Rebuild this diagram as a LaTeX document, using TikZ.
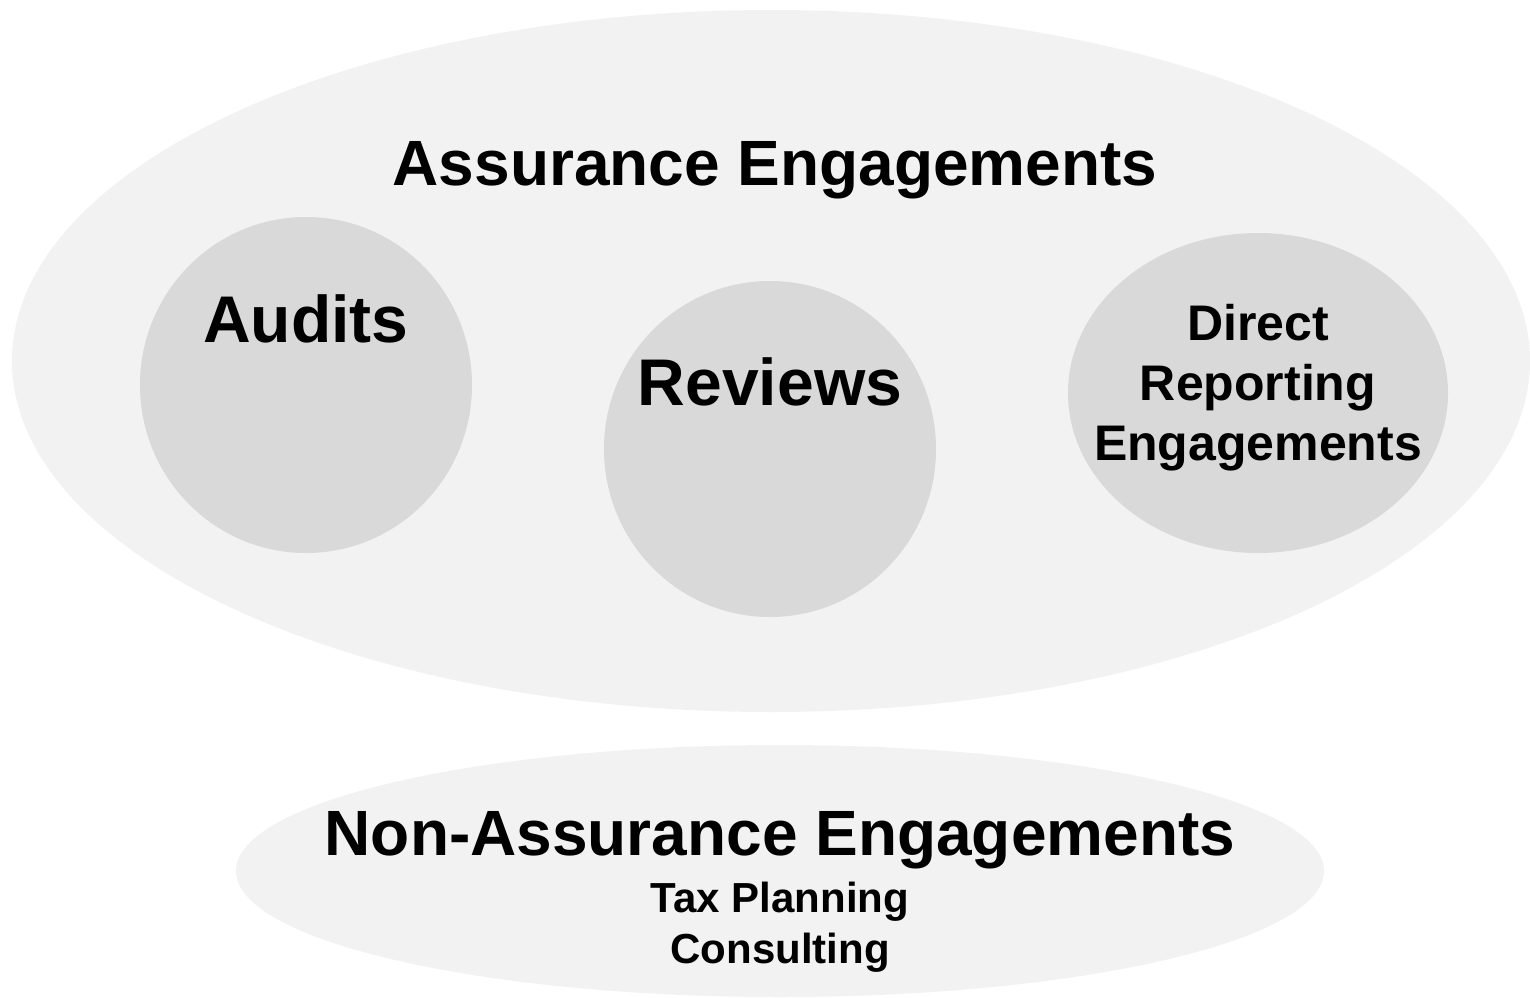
\documentclass[tikz,border=0pt]{standalone}
\usepackage{fontspec}
\setmainfont{Liberation Sans}
\definecolor{outerfill}{HTML}{F2F2F2}
\definecolor{innerfill}{HTML}{D9D9D9}
\begin{document}
\begin{tikzpicture}[x=0.5pt,y=-0.5pt,
  outer/.style={fill=outerfill,draw=none},
  inner/.style={fill=innerfill,draw=none},
  lbl/.style={font=\bfseries,anchor=base,inner sep=0pt,align=center}]
\useasboundingbox (0,0) rectangle (1530,997);
\fill[outer] (771,361) ellipse [x radius=759, y radius=351];
\fill[outer] (780,871) ellipse [x radius=544, y radius=126];
\fill[inner] (306,385) ellipse [x radius=166, y radius=168];
\fill[inner] (770,449) ellipse [x radius=166, y radius=168];
\fill[inner] (1258,393) ellipse [x radius=190, y radius=160];
\node[lbl,font=\bfseries\fontsize{32}{38}\selectfont] (ae) at (775,185) {Assurance Engagements};
\node[lbl,font=\bfseries\fontsize{33}{40}\selectfont] (au) at (306,342) {Audits};
\node[lbl,font=\bfseries\fontsize{33}{40}\selectfont] (rv) at (770,405) {Reviews};
\node[lbl,font=\bfseries\fontsize{25}{30}\selectfont] (d1) at (1258,340) {Direct};
\node[lbl,font=\bfseries\fontsize{25}{30}\selectfont] (d2) at (1258,400) {Reporting};
\node[lbl,font=\bfseries\fontsize{25}{30}\selectfont] (d3) at (1258,460) {Engagements};
\node[lbl,font=\bfseries\fontsize{32}{38}\selectfont] (na) at (780,855) {Non-Assurance Engagements};
\node[lbl,font=\bfseries\fontsize{21}{26}\selectfont] (tp) at (780,912) {Tax Planning};
\node[lbl,font=\bfseries\fontsize{21}{26}\selectfont] (cs) at (780,963) {Consulting};
\end{tikzpicture}
\end{document}
